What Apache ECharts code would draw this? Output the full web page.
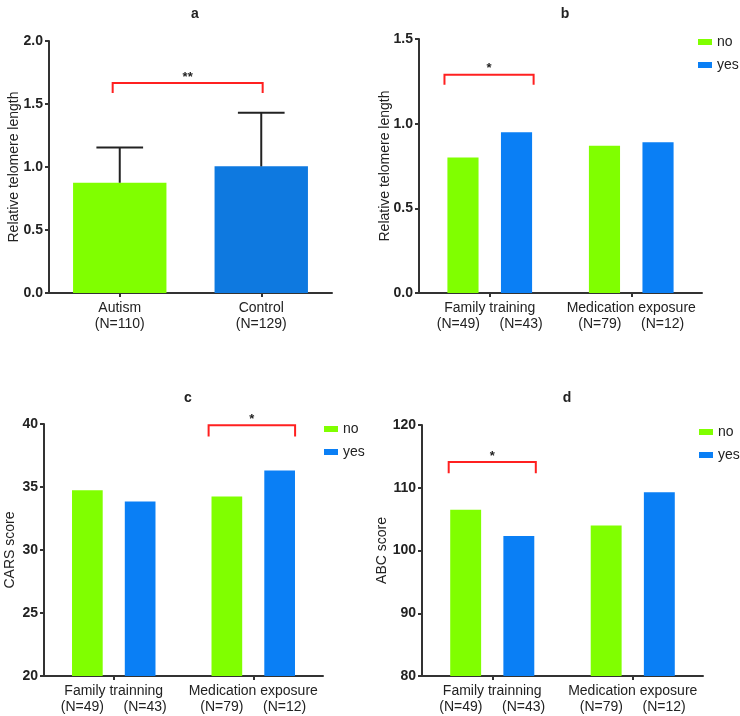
<!DOCTYPE html>
<html>
<head>
<meta charset="utf-8">
<script src="https://cdn.jsdelivr.net/npm/echarts@6/dist/echarts.min.js"></script>
<style>
  html, body { margin: 0; padding: 0; background: #fff; }
  #main { width: 740px; height: 716px; }
</style>
</head>
<body>
<div id="main"></div>
<script>
// ---- data ----
const catsA = ["Autism", "Control"];
const nA = ["(N=110)", "(N=129)"];
const meanA = [0.875, 1.005];
const sdTopA = [1.155, 1.43];

const groupsB = ["Family training", "Medication exposure"];
const groupsCD = ["Family trainning", "Medication exposure"];
const nNo = ["(N=49)", "(N=79)"];
const nYes = ["(N=43)", "(N=12)"];

const telNo = [0.80, 0.87];
const telYes = [0.95, 0.89];
const carsNo = [34.75, 34.25];
const carsYes = [33.85, 36.3];
const abcNo = [106.5, 104.0];
const abcYes = [102.3, 109.3];

// significance brackets: [cat from, offset from, cat to, offset to, top, leg bottom]
const bracketA = [[0, -0.05, 1, 0.01, 1.667, 1.587]];
const bracketB = [[0, -0.32, 0, 0.31, 1.289, 1.23]];
const bracketC = [[1, -0.32, 1, 0.30, 39.9, 39.0]];
const bracketD = [[0, -0.31, 0, 0.31, 114.1, 112.3]];
const starsA = ["**"], starsB = ["*"], starsC = ["*"], starsD = ["*"];

const GREEN = "#80ff00";
const BLUE_A = "#0e79e0";
const BLUE = "#0a7ff5";
const FONT = "'Liberation Sans', Arial, sans-serif";

var chart = echarts.init(document.getElementById("main"));

function bracketRender(stars) {
  return function (params, api) {
    const band = api.size([1, 0])[0];
    const p0 = api.coord([api.value(0), api.value(4)]);
    const p1 = api.coord([api.value(2), api.value(4)]);
    const yb = api.coord([api.value(0), api.value(5)])[1];
    const x0 = p0[0] + api.value(1) * band;
    const x1 = p1[0] + api.value(3) * band;
    const yt = p0[1];
    return {
      type: "group",
      children: [
        {
          type: "polyline",
          shape: { points: [[x0, yb], [x0, yt], [x1, yt], [x1, yb]] },
          style: { stroke: "#ff2020", lineWidth: 2, fill: null }
        },
        {
          type: "text",
          x: (x0 + x1) / 2,
          y: yt - 6,
          style: {
            text: stars[params.dataIndex],
            fontSize: 13,
            fontWeight: "bold",
            fontFamily: FONT,
            fill: "#222",
            align: "center",
            verticalAlign: "middle"
          }
        }
      ]
    };
  };
}

function errRender(params, api) {
  const band = api.size([1, 0])[0];
  const pm = api.coord([api.value(0), api.value(1)]);
  const pt = api.coord([api.value(0), api.value(2)]);
  const hw = band * 0.165;
  return {
    type: "group",
    children: [
      { type: "line", shape: { x1: pm[0], y1: pm[1], x2: pt[0], y2: pt[1] }, style: { stroke: "#222", lineWidth: 2 } },
      { type: "line", shape: { x1: pt[0] - hw, y1: pt[1], x2: pt[0] + hw, y2: pt[1] }, style: { stroke: "#222", lineWidth: 2 } }
    ]
  };
}

const axisLineStyle = { show: true, lineStyle: { color: "#333", width: 2 } };
const tickStyle = { show: true, length: 4, lineStyle: { color: "#333", width: 2 } };

function catAxis(gi, cats, fmt) {
  return {
    type: "category",
    gridIndex: gi,
    data: cats,
    axisLine: axisLineStyle,
    axisTick: Object.assign({ alignWithLabel: true }, tickStyle),
    axisLabel: {
      formatter: fmt,
      fontSize: 14,
      fontFamily: FONT,
      color: "#222",
      lineHeight: 16,
      margin: 7,
      interval: 0
    }
  };
}

function valAxis(gi, name, min, max, interval, digits, gap) {
  return {
    type: "value",
    gridIndex: gi,
    min: min,
    max: max,
    interval: interval,
    name: name,
    nameLocation: "middle",
    nameGap: gap,
    nameMoveOverlap: false,
    nameTextStyle: { fontSize: 14, fontFamily: FONT, color: "#222" },
    axisLine: axisLineStyle,
    axisTick: tickStyle,
    splitLine: { show: false },
    axisLabel: {
      formatter: (v) => v.toFixed(digits),
      fontSize: 14,
      fontFamily: FONT,
      fontWeight: "bold",
      color: "#222",
      margin: 6
    }
  };
}

const groupFmtB = (v, i) => v + "\n" + nNo[i] + "     " + nYes[i];

function legendAt(left, top) {
  return {
    data: ["no", "yes"],
    orient: "vertical",
    left: left,
    top: top,
    icon: "rect",
    itemWidth: 14,
    itemHeight: 6,
    itemGap: 9,
    textStyle: { fontSize: 14, fontFamily: FONT, color: "#222" }
  };
}

function barPair(xi, no, yes) {
  const common = { type: "bar", xAxisIndex: xi, yAxisIndex: xi, barWidth: "22%", barGap: "72%" };
  return [
    Object.assign({ name: "no", data: no, itemStyle: { color: GREEN } }, common),
    Object.assign({ name: "yes", data: yes, itemStyle: { color: BLUE } }, common)
  ];
}

function bracketSeries(xi, data, stars) {
  return {
    type: "custom",
    xAxisIndex: xi,
    yAxisIndex: xi,
    clip: false,
    silent: true,
    encode: { x: 0, y: 4 },
    renderItem: bracketRender(stars),
    data: data,
    z: 5
  };
}

chart.setOption({
  animation: false,
  textStyle: { fontFamily: FONT },
  title: [
    { text: "a", left: 190, top: 2, textAlign: "center" },
    { text: "b", left: 560, top: 2, textAlign: "center" },
    { text: "c", left: 183, top: 386, textAlign: "center" },
    { text: "d", left: 562, top: 386, textAlign: "center" }
  ].map(t => Object.assign(t, { textStyle: { fontSize: 14, fontWeight: "bold", fontFamily: FONT, color: "#222" } })),
  legend: [legendAt(693, 30), legendAt(319, 417), legendAt(694, 420)],
  grid: [
    { left: 49, top: 41, width: 283, height: 252 },
    { left: 419, top: 39, width: 283, height: 254 },
    { left: 44, top: 424, width: 279, height: 252 },
    { left: 422, top: 425, width: 281, height: 251 }
  ],
  xAxis: [
    catAxis(0, catsA, (v, i) => v + "\n" + nA[i]),
    catAxis(1, groupsB, groupFmtB),
    catAxis(2, groupsCD, groupFmtB),
    catAxis(3, groupsCD, groupFmtB)
  ],
  yAxis: [
    valAxis(0, "Relative telomere length", 0, 2, 0.5, 1, 28),
    valAxis(1, "Relative telomere length", 0, 1.5, 0.5, 1, 27),
    valAxis(2, "CARS score", 20, 40, 5, 0, 27),
    valAxis(3, "ABC score", 80, 120, 10, 0, 33)
  ],
  series: [
    {
      name: "a",
      type: "bar",
      xAxisIndex: 0,
      yAxisIndex: 0,
      barWidth: "66%",
      data: meanA.map((v, i) => ({ value: v, itemStyle: { color: i === 0 ? GREEN : BLUE_A } }))
    },
    {
      type: "custom",
      xAxisIndex: 0,
      yAxisIndex: 0,
      silent: true,
      encode: { x: 0, y: 2 },
      renderItem: errRender,
      data: meanA.map((v, i) => [i, v, sdTopA[i]]),
      z: 4
    },
    bracketSeries(0, bracketA, starsA),
    ...barPair(1, telNo, telYes),
    bracketSeries(1, bracketB, starsB),
    ...barPair(2, carsNo, carsYes),
    bracketSeries(2, bracketC, starsC),
    ...barPair(3, abcNo, abcYes),
    bracketSeries(3, bracketD, starsD)
  ]
});
window.onresize = chart.resize;
</script>
</body>
</html>
